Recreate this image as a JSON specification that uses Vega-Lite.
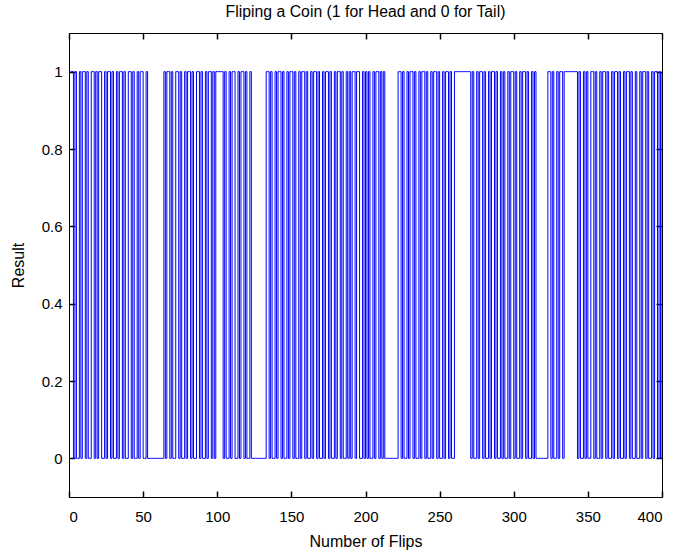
{
  "$schema": "https://vega.github.io/schema/vega-lite/v6.json",
  "autosize": "none",
  "width": 593,
  "height": 464,
  "padding": {"left": 69, "top": 33, "right": 15, "bottom": 58},
  "background": "white",
  "title": {"text": "Fliping a Coin (1 for Head and 0 for Tail)", "font": "Liberation Sans", "fontSize": 15.8, "fontWeight": "normal", "color": "black", "offset": 11},
  "config": {
    "view": {"stroke": "black", "strokeWidth": 1},
    "axis": {"domain": false, "grid": false, "labelFont": "Liberation Sans", "labelFontSize": 15, "labelColor": "black", "titleFont": "Liberation Sans", "titleFontSize": 16, "titleFontWeight": "normal", "titleColor": "black"}
  },
  "data": {"values": [
{"n":1,"v":1},{"n":2,"v":1},{"n":3,"v":0},{"n":4,"v":1},{"n":5,"v":0},{"n":6,"v":0},{"n":7,"v":1},{"n":8,"v":0},{"n":9,"v":1},{"n":10,"v":1},
{"n":11,"v":0},{"n":12,"v":1},{"n":13,"v":0},{"n":14,"v":0},{"n":15,"v":1},{"n":16,"v":1},{"n":17,"v":0},{"n":18,"v":1},{"n":19,"v":0},{"n":20,"v":1},
{"n":21,"v":1},{"n":22,"v":0},{"n":23,"v":0},{"n":24,"v":1},{"n":25,"v":0},{"n":26,"v":1},{"n":27,"v":1},{"n":28,"v":0},{"n":29,"v":1},{"n":30,"v":0},
{"n":31,"v":0},{"n":32,"v":1},{"n":33,"v":0},{"n":34,"v":1},{"n":35,"v":1},{"n":36,"v":0},{"n":37,"v":1},{"n":38,"v":0},{"n":39,"v":0},{"n":40,"v":1},
{"n":41,"v":1},{"n":42,"v":0},{"n":43,"v":1},{"n":44,"v":0},{"n":45,"v":0},{"n":46,"v":1},{"n":47,"v":0},{"n":48,"v":1},{"n":49,"v":1},{"n":50,"v":0},
{"n":51,"v":0},{"n":52,"v":1},{"n":53,"v":0},{"n":54,"v":0},{"n":55,"v":0},{"n":56,"v":0},{"n":57,"v":0},{"n":58,"v":0},{"n":59,"v":0},{"n":60,"v":0},
{"n":61,"v":0},{"n":62,"v":0},{"n":63,"v":0},{"n":64,"v":1},{"n":65,"v":0},{"n":66,"v":1},{"n":67,"v":1},{"n":68,"v":0},{"n":69,"v":1},{"n":70,"v":0},
{"n":71,"v":0},{"n":72,"v":1},{"n":73,"v":1},{"n":74,"v":0},{"n":75,"v":1},{"n":76,"v":0},{"n":77,"v":0},{"n":78,"v":1},{"n":79,"v":0},{"n":80,"v":1},
{"n":81,"v":1},{"n":82,"v":0},{"n":83,"v":1},{"n":84,"v":0},{"n":85,"v":0},{"n":86,"v":1},{"n":87,"v":1},{"n":88,"v":0},{"n":89,"v":1},{"n":90,"v":0},
{"n":91,"v":0},{"n":92,"v":1},{"n":93,"v":0},{"n":94,"v":1},{"n":95,"v":1},{"n":96,"v":0},{"n":97,"v":1},{"n":98,"v":0},{"n":99,"v":1},{"n":100,"v":1},
{"n":101,"v":1},{"n":102,"v":1},{"n":103,"v":1},{"n":104,"v":0},{"n":105,"v":1},{"n":106,"v":0},{"n":107,"v":0},{"n":108,"v":1},{"n":109,"v":0},{"n":110,"v":1},
{"n":111,"v":1},{"n":112,"v":0},{"n":113,"v":0},{"n":114,"v":1},{"n":115,"v":0},{"n":116,"v":1},{"n":117,"v":1},{"n":118,"v":0},{"n":119,"v":1},{"n":120,"v":0},
{"n":121,"v":0},{"n":122,"v":1},{"n":123,"v":0},{"n":124,"v":0},{"n":125,"v":0},{"n":126,"v":0},{"n":127,"v":0},{"n":128,"v":0},{"n":129,"v":0},{"n":130,"v":0},
{"n":131,"v":0},{"n":132,"v":0},{"n":133,"v":1},{"n":134,"v":1},{"n":135,"v":0},{"n":136,"v":1},{"n":137,"v":0},{"n":138,"v":0},{"n":139,"v":1},{"n":140,"v":0},
{"n":141,"v":1},{"n":142,"v":1},{"n":143,"v":0},{"n":144,"v":1},{"n":145,"v":0},{"n":146,"v":0},{"n":147,"v":1},{"n":148,"v":0},{"n":149,"v":1},{"n":150,"v":1},
{"n":151,"v":0},{"n":152,"v":1},{"n":153,"v":0},{"n":154,"v":0},{"n":155,"v":1},{"n":156,"v":0},{"n":157,"v":1},{"n":158,"v":1},{"n":159,"v":0},{"n":160,"v":1},
{"n":161,"v":0},{"n":162,"v":0},{"n":163,"v":1},{"n":164,"v":0},{"n":165,"v":1},{"n":166,"v":1},{"n":167,"v":0},{"n":168,"v":1},{"n":169,"v":0},{"n":170,"v":0},
{"n":171,"v":1},{"n":172,"v":0},{"n":173,"v":1},{"n":174,"v":1},{"n":175,"v":0},{"n":176,"v":1},{"n":177,"v":0},{"n":178,"v":0},{"n":179,"v":1},{"n":180,"v":0},
{"n":181,"v":1},{"n":182,"v":1},{"n":183,"v":0},{"n":184,"v":1},{"n":185,"v":0},{"n":186,"v":0},{"n":187,"v":1},{"n":188,"v":0},{"n":189,"v":1},{"n":190,"v":0},
{"n":191,"v":1},{"n":192,"v":1},{"n":193,"v":0},{"n":194,"v":1},{"n":195,"v":1},{"n":196,"v":0},{"n":197,"v":0},{"n":198,"v":1},{"n":199,"v":0},{"n":200,"v":1},
{"n":201,"v":0},{"n":202,"v":1},{"n":203,"v":0},{"n":204,"v":0},{"n":205,"v":1},{"n":206,"v":0},{"n":207,"v":1},{"n":208,"v":1},{"n":209,"v":0},{"n":210,"v":1},
{"n":211,"v":0},{"n":212,"v":1},{"n":213,"v":0},{"n":214,"v":0},{"n":215,"v":0},{"n":216,"v":0},{"n":217,"v":0},{"n":218,"v":0},{"n":219,"v":0},{"n":220,"v":0},
{"n":221,"v":0},{"n":222,"v":1},{"n":223,"v":1},{"n":224,"v":0},{"n":225,"v":1},{"n":226,"v":0},{"n":227,"v":0},{"n":228,"v":1},{"n":229,"v":0},{"n":230,"v":1},
{"n":231,"v":1},{"n":232,"v":0},{"n":233,"v":1},{"n":234,"v":0},{"n":235,"v":0},{"n":236,"v":1},{"n":237,"v":0},{"n":238,"v":1},{"n":239,"v":1},{"n":240,"v":0},
{"n":241,"v":1},{"n":242,"v":0},{"n":243,"v":0},{"n":244,"v":1},{"n":245,"v":0},{"n":246,"v":1},{"n":247,"v":1},{"n":248,"v":0},{"n":249,"v":1},{"n":250,"v":0},
{"n":251,"v":0},{"n":252,"v":1},{"n":253,"v":0},{"n":254,"v":1},{"n":255,"v":1},{"n":256,"v":0},{"n":257,"v":1},{"n":258,"v":0},{"n":259,"v":0},{"n":260,"v":1},
{"n":261,"v":1},{"n":262,"v":1},{"n":263,"v":1},{"n":264,"v":1},{"n":265,"v":1},{"n":266,"v":1},{"n":267,"v":1},{"n":268,"v":1},{"n":269,"v":1},{"n":270,"v":1},
{"n":271,"v":0},{"n":272,"v":1},{"n":273,"v":0},{"n":274,"v":0},{"n":275,"v":1},{"n":276,"v":0},{"n":277,"v":1},{"n":278,"v":1},{"n":279,"v":0},{"n":280,"v":1},
{"n":281,"v":0},{"n":282,"v":0},{"n":283,"v":1},{"n":284,"v":0},{"n":285,"v":1},{"n":286,"v":1},{"n":287,"v":0},{"n":288,"v":1},{"n":289,"v":0},{"n":290,"v":0},
{"n":291,"v":1},{"n":292,"v":0},{"n":293,"v":1},{"n":294,"v":0},{"n":295,"v":0},{"n":296,"v":1},{"n":297,"v":0},{"n":298,"v":1},{"n":299,"v":1},{"n":300,"v":0},
{"n":301,"v":1},{"n":302,"v":0},{"n":303,"v":0},{"n":304,"v":1},{"n":305,"v":0},{"n":306,"v":1},{"n":307,"v":1},{"n":308,"v":0},{"n":309,"v":1},{"n":310,"v":0},
{"n":311,"v":0},{"n":312,"v":1},{"n":313,"v":0},{"n":314,"v":1},{"n":315,"v":0},{"n":316,"v":0},{"n":317,"v":0},{"n":318,"v":0},{"n":319,"v":0},{"n":320,"v":0},
{"n":321,"v":0},{"n":322,"v":0},{"n":323,"v":1},{"n":324,"v":1},{"n":325,"v":0},{"n":326,"v":1},{"n":327,"v":0},{"n":328,"v":0},{"n":329,"v":1},{"n":330,"v":0},
{"n":331,"v":1},{"n":332,"v":1},{"n":333,"v":0},{"n":334,"v":1},{"n":335,"v":1},{"n":336,"v":1},{"n":337,"v":1},{"n":338,"v":1},{"n":339,"v":1},{"n":340,"v":1},
{"n":341,"v":1},{"n":342,"v":1},{"n":343,"v":0},{"n":344,"v":1},{"n":345,"v":0},{"n":346,"v":0},{"n":347,"v":1},{"n":348,"v":0},{"n":349,"v":1},{"n":350,"v":0},
{"n":351,"v":0},{"n":352,"v":1},{"n":353,"v":1},{"n":354,"v":0},{"n":355,"v":1},{"n":356,"v":0},{"n":357,"v":0},{"n":358,"v":1},{"n":359,"v":0},{"n":360,"v":1},
{"n":361,"v":1},{"n":362,"v":0},{"n":363,"v":1},{"n":364,"v":0},{"n":365,"v":0},{"n":366,"v":1},{"n":367,"v":0},{"n":368,"v":1},{"n":369,"v":1},{"n":370,"v":0},
{"n":371,"v":1},{"n":372,"v":0},{"n":373,"v":0},{"n":374,"v":1},{"n":375,"v":0},{"n":376,"v":1},{"n":377,"v":1},{"n":378,"v":0},{"n":379,"v":1},{"n":380,"v":0},
{"n":381,"v":0},{"n":382,"v":1},{"n":383,"v":0},{"n":384,"v":0},{"n":385,"v":1},{"n":386,"v":0},{"n":387,"v":1},{"n":388,"v":1},{"n":389,"v":0},{"n":390,"v":1},
{"n":391,"v":0},{"n":392,"v":0},{"n":393,"v":1},{"n":394,"v":0},{"n":395,"v":1},{"n":396,"v":1},{"n":397,"v":0},{"n":398,"v":1},{"n":399,"v":0},{"n":400,"v":1}
  ]},
  "layer": [
    {
      "mark": {"type": "line", "interpolate": "step-after", "color": "#0000ff", "strokeWidth": 1, "clip": true},
      "encoding": {
        "x": {"field": "n", "type": "quantitative", "scale": {"domain": [0, 400], "nice": false, "zero": false}, "axis": {"orient": "bottom", "offset": -6, "ticks": true, "tickSize": 6, "tickColor": "black", "tickWidth": 1.5, "values": [0, 50, 100, 150, 200, 250, 300, 350, 400], "title": "Number of Flips", "labelPadding": 12, "titlePadding": 9}},
        "y": {"field": "v", "type": "quantitative", "scale": {"domain": [-0.1, 1.1], "nice": false, "zero": false}, "axis": {"orient": "left", "offset": -6, "ticks": true, "tickSize": 6, "tickColor": "black", "tickWidth": 1.5, "values": [0, 0.2, 0.4, 0.6, 0.8, 1], "format": "~g", "title": "Result", "labelPadding": 7, "titlePadding": 15}}
      }
    },
    {
      "mark": {"type": "line", "opacity": 0},
      "encoding": {
        "x": {"field": "n", "type": "quantitative", "scale": {"domain": [0, 400], "nice": false, "zero": false}, "axis": {"orient": "top", "offset": -6, "ticks": true, "tickSize": 6, "tickColor": "black", "tickWidth": 1.5, "values": [0, 50, 100, 150, 200, 250, 300, 350, 400], "labels": false, "title": null}},
        "y": {"field": "v", "type": "quantitative", "scale": {"domain": [-0.1, 1.1], "nice": false, "zero": false}, "axis": {"orient": "right", "offset": -6, "ticks": true, "tickSize": 6, "tickColor": "black", "tickWidth": 1.5, "values": [0, 0.2, 0.4, 0.6, 0.8, 1], "labels": false, "title": null}}
      }
    }
  ],
  "resolve": {"scale": {"x": "independent", "y": "independent"}, "axis": {"x": "independent", "y": "independent"}}
}
